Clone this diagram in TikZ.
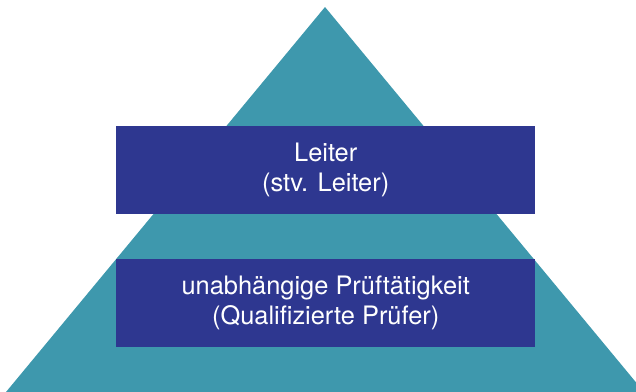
\documentclass[tikz,border=0pt]{standalone}
\usepackage{fontspec}
\setmainfont{TeX Gyre Heros}
\definecolor{teal1}{HTML}{3E98AD}
\definecolor{navy1}{HTML}{2E3790}
\begin{document}
\begin{tikzpicture}[x=1bp,y=-1bp,
  level/.style={fill=navy1, draw=none, text=white, align=center, font=\fontsize{25.5}{30}\selectfont, minimum width=419bp, minimum height=88bp, inner sep=0pt, anchor=north west}]
\useasboundingbox (0,0) rectangle (636,391);
\begin{scope}
\clip (0,0) rectangle (636,391);
\fill[teal1] (325,7) -- (644,392) -- (6,392) -- cycle;
\end{scope}
\node[level] (top) at (116,126) {Leiter\\(stv. Leiter)};
\node[level] (bottom) at (116,259) {unabhängige Prüftätigkeit\\(Qualifizierte Prüfer)};
\end{tikzpicture}
\end{document}
